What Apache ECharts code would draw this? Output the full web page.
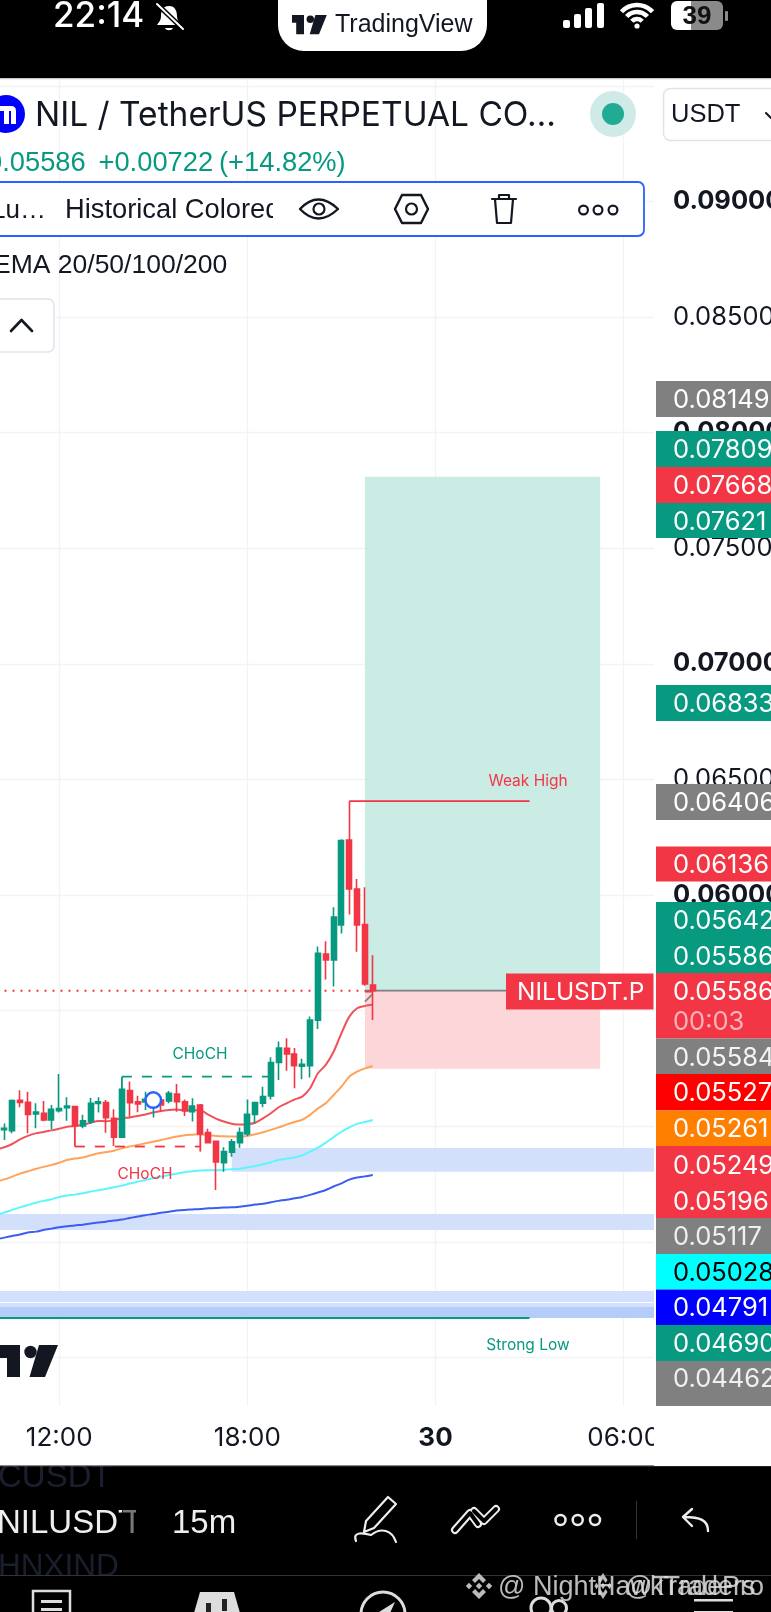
<!DOCTYPE html>
<html><head><meta charset="utf-8">
<style>html,body{margin:0;padding:0;background:#fff;overflow:hidden}#c{width:771px;height:1612px}</style>
<script src="https://cdn.jsdelivr.net/npm/echarts@6/dist/echarts.min.js"></script>
</head><body><div id="c"></div>
<script>
const categories=['10:00','10:15','10:30','10:45','11:00','11:15','11:30','11:45','12:00','12:15','12:30','12:45','13:00','13:15','13:30','13:45','14:00','14:15','14:30','14:45','15:00','15:15','15:30','15:45','16:00','16:15','16:30','16:45','17:00','17:15','17:30','17:45','18:00','18:15','18:30','18:45','19:00','19:15','19:30','19:45','20:00','20:15','20:30','20:45','21:00','21:15','21:30','21:45','22:00','22:15','22:30','22:45','23:00','23:15','23:30','23:45','00:00','00:15','00:30','00:45','01:00','01:15','01:30','01:45','02:00','02:15','02:30','02:45','03:00','03:15','03:30','03:45','04:00','04:15','04:30','04:45','05:00','05:15','05:30','05:45','06:00','06:15','06:30','06:45','07:00'];
const opens=[.04960,.04985,.04981,.05112,.05103,.05053,.05056,.05027,.05067,.05080,.05085,.05001,.05020,.05098,.05102,.05034,.04952,.05154,.05106,.05105,.05099,.05113,.05109,.05139,.05105,.05063,.05092,.04972,.04935,.04842,.04888,.04929,.04966,.05051,.05099,.05131,.05276,.05337,.05312,.05260,.05262,.05459,.05745,.05719,.05870,.06238,.06026,.05872,.05611];
const closes=[.04985,.04991,.05111,.05103,.05051,.05061,.05027,.05073,.05076,.05087,.05001,.05023,.05099,.05105,.05037,.04952,.05160,.05102,.05096,.05116,.05121,.05092,.05142,.05106,.05066,.05087,.04966,.04929,.04845,.04890,.04933,.04972,.05051,.05102,.05128,.05275,.05338,.05312,.05262,.05268,.05459,.05748,.05719,.05905,.06235,.06026,.05870,.05615,.05586];
const lows=[.04940,.04940,.04969,.05082,.04969,.04991,.05021,.04987,.05059,.05024,.04998,.04991,.05010,.05059,.04972,.04914,.04952,.05041,.05060,.05070,.05038,.05063,.05099,.05063,.05044,.05020,.04960,.04926,.04724,.04803,.04868,.04907,.04958,.05012,.05082,.05116,.05200,.05240,.05164,.05203,.05211,.05420,.05635,.05604,.05834,.05916,.05755,.05608,.05459];
const highs=[.05000,.05012,.05116,.05155,.05149,.05099,.05109,.05092,.05226,.05125,.05087,.05049,.05123,.05125,.05113,.05073,.05162,.05193,.05132,.05149,.05135,.05128,.05152,.05183,.05116,.05121,.05096,.04989,.04935,.04909,.04945,.04994,.05116,.05106,.05171,.05298,.05366,.05380,.05338,.05292,.05474,.05777,.05800,.05947,.06241,.06406,.06069,.06033,.05739];
const ema20=[.04900,.04909,.04923,.04943,.04958,.04969,.04975,.04982,.04989,.04998,.05001,.05005,.05015,.05023,.05021,.05027,.05034,.05038,.05044,.05051,.05059,.05066,.05070,.05072,.05069,.05069,.05069,.05050,.05033,.05020,.05011,.05007,.05008,.05015,.05034,.05056,.05082,.05099,.05115,.05128,.05164,.05229,.05265,.05322,.05402,.05474,.05510,.05520,.05526];
const ema50=[.04760,.04770,.04782,.04795,.04805,.04815,.04824,.04832,.04842,.04854,.04860,.04865,.04874,.04883,.04888,.04894,.04904,.04912,.04919,.04926,.04933,.04940,.04948,.04955,.04961,.04963,.04965,.04962,.04958,.04956,.04955,.04955,.04958,.04965,.04974,.04984,.04995,.05007,.05018,.05028,.05049,.05077,.05099,.05135,.05171,.05214,.05236,.05250,.05260];
const ema100=[.04617,.04626,.04638,.04649,.04659,.04669,.04677,.04684,.04694,.04700,.04704,.04710,.04717,.04723,.04729,.04736,.04743,.04752,.04760,.04767,.04775,.04782,.04789,.04795,.04801,.04805,.04808,.04809,.04809,.04811,.04814,.04816,.04822,.04828,.04835,.04844,.04854,.04860,.04865,.04874,.04890,.04907,.04929,.04953,.04976,.04995,.05010,.05018,.05027];
const ema200=[.04511,.04518,.04525,.04532,.04540,.04544,.04551,.04557,.04563,.04567,.04571,.04574,.04579,.04583,.04587,.04592,.04596,.04603,.04609,.04615,.04620,.04626,.04630,.04635,.04638,.04640,.04642,.04645,.04646,.04648,.04649,.04652,.04656,.04661,.04665,.04671,.04677,.04682,.04688,.04694,.04703,.04713,.04724,.04739,.04753,.04769,.04778,.04783,.04789];
const yTickLabels=['0.04000','0.04500','0.05000','0.05500','0.06000','0.06500','0.07000','0.07500','0.08000','0.08500','0.09000'];
const yBoldLabels=['0.06000','0.07000','0.08000','0.09000'];
const xTickLabels={'12:00':'12:00','18:00':'18:00','00:00':'30','06:00':'06:00'};
const tagTexts=['0.08149','0.07809','0.07668','0.07621','0.06833','0.06406','0.06136','0.05642','0.05586','0.05586','00:03','0.05584','0.05527','0.05261','0.05249','0.05196','0.05117','0.05028','0.04791','0.04690','0.04462'];
const tagFills=['#808080','#089981','#f23645','#089981','#089981','#808080','#f23645','#089981','#f23645','#808080','#ff0000','#ff7f00','#f23645','#808080','#00ffff','#0000ff','#089981','#808080'];
const currentPrice=.05586, weakHigh=.06406, strongLow=.04170;
const targetPrice=.07809, stopPrice=.05249;

/* layout */
const GT=-29.8,GH=1502.8,GL=-7.46,GW=666.4;
const tagBoxTop=[381,431,467,503,685,784,846.5,902,973,1038.5,1074,1110.5,1146,1218,1254,1289.5,1325,1361];
const tagBoxBot=[417,467,503,538,721,820,881.5,973,1038.5,1074,1110.5,1146,1218,1254,1289.5,1325,1361,1406];
const tagTextY=[399,449,485,521,703,802,864,920,956,991,1021,1057,1092,1128,1165,1201,1236,1272,1307,1343,1378];
const tagTextColor=['#fff','#fff','#fff','#fff','#fff','#fff','#fff','#fff','#fff','#fff','#fbb4ba','#f4f4f4','#fff','#fff','#fff','#fff','#f0f0f0','#000','#fff','#fff','#f0f0f0'];

const F='Inter, "Liberation Sans", sans-serif', L='"Liberation Sans", Arial, sans-serif';
const INK='#131722', G=[];
let pathN=0;
const rect=(x,y,w,h,fill,z,o)=>G.push({type:'rect',z:z||70,silent:true,shape:{x,y,width:w,height:h,r:(o&&o.r)||0},style:{fill,stroke:o&&o.stroke,lineWidth:o&&o.lw}});
const txt=(x,y,text,size,fill,o)=>{o=o||{};G.push({type:'text',z:o.z||72,silent:true,x,y:y+1.5,style:{text,fill,font:(o.w||'400')+' '+size+'px '+(o.f||F),textAlign:o.a||'left',textVerticalAlign:'middle',textBaseline:'middle',opacity:o.op==null?1:o.op}})};
const path=(d,o)=>{const name='svgp'+(pathN++);echarts.graphic.registerShape(name,echarts.graphic.extendPath(d,{}));G.push({type:name,z:o.z||72,silent:true,style:{fill:o.fill||'none',stroke:o.stroke||null,lineWidth:o.lw||0,lineCap:'round',lineJoin:'round',opacity:o.op==null?1:o.op}})};
const circ=(cx,cy,r,o)=>G.push({type:'circle',z:o.z||72,silent:true,shape:{cx,cy,r},style:{fill:o.fill||'none',stroke:o.stroke||null,lineWidth:o.lw||0}});
const tv=(x,y,s,fill,z)=>{const p=(a)=>a.map((c,i)=>(i%2?y+c*s:x+c*s));
  const P=p([0,0,20,0,20,32,7,32,7,13,0,13]);path(`M${P[0]} ${P[1]}L${P[2]} ${P[3]}L${P[4]} ${P[5]}L${P[6]} ${P[7]}L${P[8]} ${P[9]}L${P[10]} ${P[11]}Z`,{fill,z});
  circ(x+30.5*s,y+7*s,6.2*s,{fill,z});
  const Q=p([39,0,58,0,45,32,29.5,32]);path(`M${Q[0]} ${Q[1]}L${Q[2]} ${Q[3]}L${Q[4]} ${Q[5]}L${Q[6]} ${Q[7]}Z`,{fill,z});};
const binance=(c,m)=>{const d=(x,y,r)=>`M${c+x*m} ${1586+y-r}L${c+x*m+r*m} ${1586+y}L${c+x*m} ${1586+y+r}L${c+x*m-r*m} ${1586+y}Z`;
  path(`M${c} ${1573}L${c+7*m} ${1580}L${c+4*m} ${1583}L${c} ${1579}L${c-4*m} ${1583}L${c-7*m} ${1580}Z`,{fill:'#cfcfcf',z:75,op:.9});
  path(`M${c} ${1599}L${c+7*m} ${1592}L${c+4*m} ${1589}L${c} ${1593}L${c-4*m} ${1589}L${c-7*m} ${1592}Z`,{fill:'#cfcfcf',z:75,op:.9});
  path(d(0,0,3.2)+d(-10,0,3.2)+d(10,0,3.2),{fill:'#cfcfcf',z:75,op:.9});};

/* masks */
rect(0,0,771,78,'#000',50);
rect(0,78,771,1.2,'#c8c8c8',51);
rect(654,78,117,1328,'#fff',50);
rect(0,1406,771,60,'#fff',50);
rect(654,1406,117,60,'#fff',62);
rect(0,1465,771,147,'#000',50);
rect(0,1440,771,25,'#fff',53);
rect(0,1465,771,1.2,'#888',54);

/* status bar */
txt(53,15,'22:14',35,'#fff',{w:'500'});
path('M169 6C163 6 161 11 161 16C161 21 158 23 157 25H181C180 23 177 21 177 16C177 11 175 6 169 6Z',{fill:'#fff'});
path('M165 28C166 31 172 31 173 28Z',{fill:'#fff'});
path('M157 4L183 29',{stroke:'#000',lw:5});path('M157 4L183 29',{stroke:'#fff',lw:2});
rect(278,-30,209,81,'#fff',60,{r:26});
tv(292,15,.6,INK,72);
txt(335,24,'TradingView',25,INK,{w:'500',f:L});
[[563,20],[574,14],[585,8],[597,3]].forEach(b=>rect(b[0],b[1],7,28-b[1],'#fff',72,{r:2}));
[[7,4.5],[14,4.5],[21,4.5]].forEach(a=>G.push({type:'arc',z:72,silent:true,shape:{cx:637,cy:26,r:a[0],startAngle:-2.4,endAngle:-.74},style:{fill:'none',stroke:'#fff',lineWidth:a[1]}}));
circ(637,26,2.6,{fill:'#fff'});
rect(691,1,32,29,'#8a8a8a',71,{r:6});
rect(671,1,30,29,'#fff',71,{r:6});rect(691,1,10,29,'#8a8a8a',71);
rect(725,11,3,10,'#8a8a8a',71,{r:1});
txt(697,15,'39',26,'#111',{a:'center',w:'600',f:L});

/* header */
circ(6,114,19,{fill:'#0000ff'});
path('M0 106H11Q16 106 16 111V124H11V111H9V124H4V111H0Z',{fill:'#fff'});
txt(35,114,'NIL / TetherUS PERPETUAL CO…',33.5,INK,{});
circ(613,114,23,{fill:'#cfeae7'});circ(613,114,11,{fill:'#22ab94'});
rect(663.5,88.5,140,52,'#fff',60,{r:7,stroke:'#e0e3eb',lw:1.5});
txt(671,113,'USDT',25.5,INK,{f:L,z:72});
path('M766 113L771 118',{stroke:INK,lw:2});
txt(-13,162,'0.05586',27.3,'#089981',{f:L});
txt(98.5,162,'+0.00722',27.3,'#089981',{f:L});
txt(219,162,'(+14.82%)',27.3,'#089981',{f:L});
rect(-10,182,654,54,'#fff',60,{r:6,stroke:'#2962ff',lw:1.8});
txt(-9,209,'Lu…',26,INK,{f:L});
txt(65,209,'Historical Colored',27.3,INK,{f:L});
rect(273,186,22,46,'#fff',73);
path('M300 209Q318 190 338 209Q318 228 300 209Z',{stroke:INK,lw:2.4,z:74});circ(319,209,5.5,{stroke:INK,lw:2.2,z:74});
path('M402 195H421L428 209L421 223H402L395 209Z',{stroke:INK,lw:2.4,z:74});circ(411.5,209,5.5,{stroke:INK,lw:2.2,z:74});
path('M492 199H516M499 199V195H509V199M495 199L497 223H511L513 199',{stroke:INK,lw:2.2,z:74});
[583.5,598,613].forEach(x=>circ(x,210,4.4,{stroke:INK,lw:2.2,z:74}));
txt(-7,264,'EMA 20/50/100/200',26.5,INK,{f:L,z:60});
rect(-10,299,64,53,'#fff',60,{r:6,stroke:'#e0e3eb',lw:1.5});
path('M11 331L21.5 320L32 331',{stroke:INK,lw:2.6});

/* price tags */
tagFills.forEach((f,i)=>rect(656,tagBoxTop[i],115,tagBoxBot[i]-tagBoxTop[i],f,70));
tagTexts.forEach((t,i)=>txt(673,tagTextY[i],t,25.5,tagTextColor[i],{z:72}));
rect(506,973.5,147.5,36,'#f23645',70);
txt(517,991.5,'NILUSDT.P',24.5,'#fff',{z:72});

/* chart annotations */
txt(528,779.5,'Weak High',15.5,'#f23645',{a:'center',z:30});
txt(528,1344,'Strong Low',15.5,'#089981',{a:'center',z:30});
txt(200,1053,'CHoCH',15.5,'#089981',{a:'center',z:30});
txt(145,1173,'CHoCH',15.5,'#f23645',{a:'center',z:30});
tv(0,1345,1,INK,30);

/* bottom bar */
txt(-2,1476,'CUSDT',33,'#1a1f2e',{f:L,z:52});
txt(-3,1522,'NILUSDT',33,'#eeeeee',{f:L,z:52});
rect(122,1500,16,44,'#000',53);
txt(122,1522,'T',33,'#777',{f:L,z:54});
rect(136,1500,10,44,'#000',55);
txt(172,1522,'15m',33,'#eeeeee',{f:L,z:52});
txt(-2,1566,'HNXIND',31.5,'#1a1f2e',{f:L,z:52});
rect(0,1575,771,1,'#333',52);
path('M388 1497L396 1504L374 1528L364 1532L366 1521Z',{stroke:'#eee',lw:2.2});
path('M356 1541C352 1531 364 1533 371 1535C381 1527 392 1530 396 1542',{stroke:'#eee',lw:2.2});
path('M455 1530L470 1513L478 1524M474 1511L484 1521L496 1509',{stroke:'#eee',lw:8});
path('M455 1530L470 1513L478 1524M474 1511L484 1521L496 1509',{stroke:'#000',lw:4,z:73});
[560.5,577.7,595].forEach(x=>circ(x,1520,5,{stroke:'#eee',lw:2.5}));
rect(636,1501,1,38,'#333',72);
path('M708 1531C708 1520 700 1517 684 1517M692 1509L683 1517L692 1526',{stroke:'#eee',lw:2.4});
rect(33,1591,37,40,'#000',72,{stroke:'#ddd',lw:2.5});
rect(41,1600,21,3,'#ddd',72);rect(41,1608,21,3,'#ddd',72);
path('M200 1592H234L242 1620H192Z',{fill:'#ddd'});
rect(206,1603,5,12,'#222',73);rect(222,1599,5,12,'#222',73);
circ(383,1614,22,{stroke:'#ddd',lw:3});
path('M395 1602L386 1622L379 1612Z',{fill:'#ddd'});
circ(541,1608,10,{stroke:'#ddd',lw:3});circ(559,1608,7.5,{stroke:'#ddd',lw:3});
rect(694,1599,39,2.5,'#ddd',72);rect(694,1611,39,2.5,'#ddd',72);
binance(479,1);binance(603,.65);
txt(498,1586,'@ NightHawkTraders',27,'#dcdcdc',{f:L,z:75,op:.85});
txt(625,1586,'@TradePro',27,'#dcdcdc',{f:L,z:75,op:.85});

const chart=echarts.init(document.getElementById('c'),null,{renderer:'canvas'});
const tickOn=(i,v)=>xTickLabels[v]!==undefined;
const idx=i=>categories[i];
const levelLine=(pts,color,w,type)=>({type:'line',xAxisIndex:0,yAxisIndex:0,z:4,silent:true,symbol:'none',animation:false,
  data:pts,lineStyle:{color,width:w,type:type||'solid'}});
const ema=(d,color,w)=>({type:'line',xAxisIndex:0,yAxisIndex:0,z:3,silent:true,symbol:'none',showSymbol:false,smooth:.25,animation:false,
  data:d,lineStyle:{color,width:w}});
const band=(a,b,v1,v2,color)=>[{xAxis:idx(a),yAxis:v1,itemStyle:{color}},{xAxis:idx(b),yAxis:v2}];
chart.setOption({
  animation:false,backgroundColor:'#fff',
  grid:{left:GL,top:GT,width:GW,height:GH,containLabel:false,show:false,outerBoundsMode:'none'},
  xAxis:[
    {type:'category',data:categories,boundaryGap:true,position:'bottom',z:0,axisLine:{show:false},axisLabel:{show:false},
     axisTick:{show:false,alignWithLabel:true,interval:tickOn},
     splitLine:{show:true,alignWithLabel:true,interval:tickOn,lineStyle:{color:'#f2f3f5',width:1.4}}},
    {type:'category',data:categories,boundaryGap:true,position:'bottom',z:60,axisLine:{show:false},axisTick:{show:false},splitLine:{show:false},
     axisLabel:{show:true,interval:tickOn,margin:-48,hideOverlap:false,
       formatter:v=>v==='00:00'?'{b|30}':(xTickLabels[v]||''),
       color:INK,fontFamily:F,fontSize:26,rich:{b:{fontWeight:700,fontSize:26,fontFamily:F,color:INK}}}}
  ],
  yAxis:[
    {type:'value',min:.035,max:.1,interval:.005,position:'right',z:0,axisLine:{show:false},axisTick:{show:false},axisLabel:{show:false},
     splitLine:{show:true,lineStyle:{color:'#f2f3f5',width:1.4}}},
    {type:'value',min:.035,max:.1,interval:.005,position:'right',z:60,axisLine:{show:false},axisTick:{show:false},splitLine:{show:false},
     axisLabel:{show:true,margin:14,align:'left',showMinLabel:true,showMaxLabel:true,
       formatter:v=>{const s=v.toFixed(5);if(!yTickLabels.includes(s))return '';return yBoldLabels.includes(s)?'{b|'+s+'}':s;},
       color:INK,fontFamily:F,fontSize:25.5,rich:{b:{fontWeight:700,fontSize:25.5,fontFamily:F,color:INK}}}}
  ],
  series:[
    {type:'line',z:1,silent:true,data:[],symbol:'none',markArea:{silent:true,data:[
      band(47,77,targetPrice,currentPrice,'#cbebe5'),
      band(47,77,currentPrice,stopPrice,'#fdd6d9'),
      band(30,84,.04906,.04803,'#d2e0fb'),
      band(0,84,.04620,.04551,'#d2e0fb'),
      band(0,84,.04287,.04240,'#d2e0fb'),
      band(0,84,.04235,.04218,'#d2e0fb'),
      band(0,84,.04218,.04170,'#b3cdf8')
    ]}},
    levelLine([[idx(0),strongLow],[idx(68),strongLow]],'#089981',2),
    levelLine([[idx(0),currentPrice],[idx(47),currentPrice]],'#f23645',2,[2,6]),
    levelLine([[idx(47),currentPrice],[idx(77),currentPrice]],'#7f7f7f',1.8),
    ema(ema200,'#3d5cf0',2),ema(ema100,'#5df5ff',2),ema(ema50,'#ffa35a',2),ema(ema20,'#f0525c',2),
    levelLine([[idx(16),.05214],[idx(35),.05214]],'#089981',1.8,[10,10]),
    levelLine([[idx(16),.05160],[idx(16),.05214]],'#089981',1.8),
    levelLine([[idx(10),.04912],[idx(26),.04912]],'#f23645',1.8,[10,10]),
    levelLine([[idx(10),.05001],[idx(10),.04912]],'#f23645',1.8),
    levelLine([[idx(26),.04966],[idx(26),.04890]],'#f23645',1.8),
    levelLine([[idx(45),weakHigh],[idx(68),weakHigh]],'#f23645',1.8),
    levelLine([[idx(47),.05582],[idx(48),.05582]],'#f23645',1.8),
    levelLine([[idx(47),.05539],[idx(48),.05572]],'#808080',1.8),
    {type:'candlestick',z:5,silent:true,barWidth:5.5,animation:false,
      data:opens.map((o,i)=>[o,closes[i],lows[i],highs[i]]),
      itemStyle:{color:'#089981',color0:'#f23645',borderColor:'#089981',borderColor0:'#f23645',borderWidth:1.6}},
    {type:'scatter',z:6,silent:true,symbol:'circle',symbolSize:15.5,data:[[idx(20),.05113]],itemStyle:{color:'#fff',borderColor:'#2962ff',borderWidth:2.4,opacity:1}}
  ],
  graphic:{elements:G}
});
</script></body></html>
